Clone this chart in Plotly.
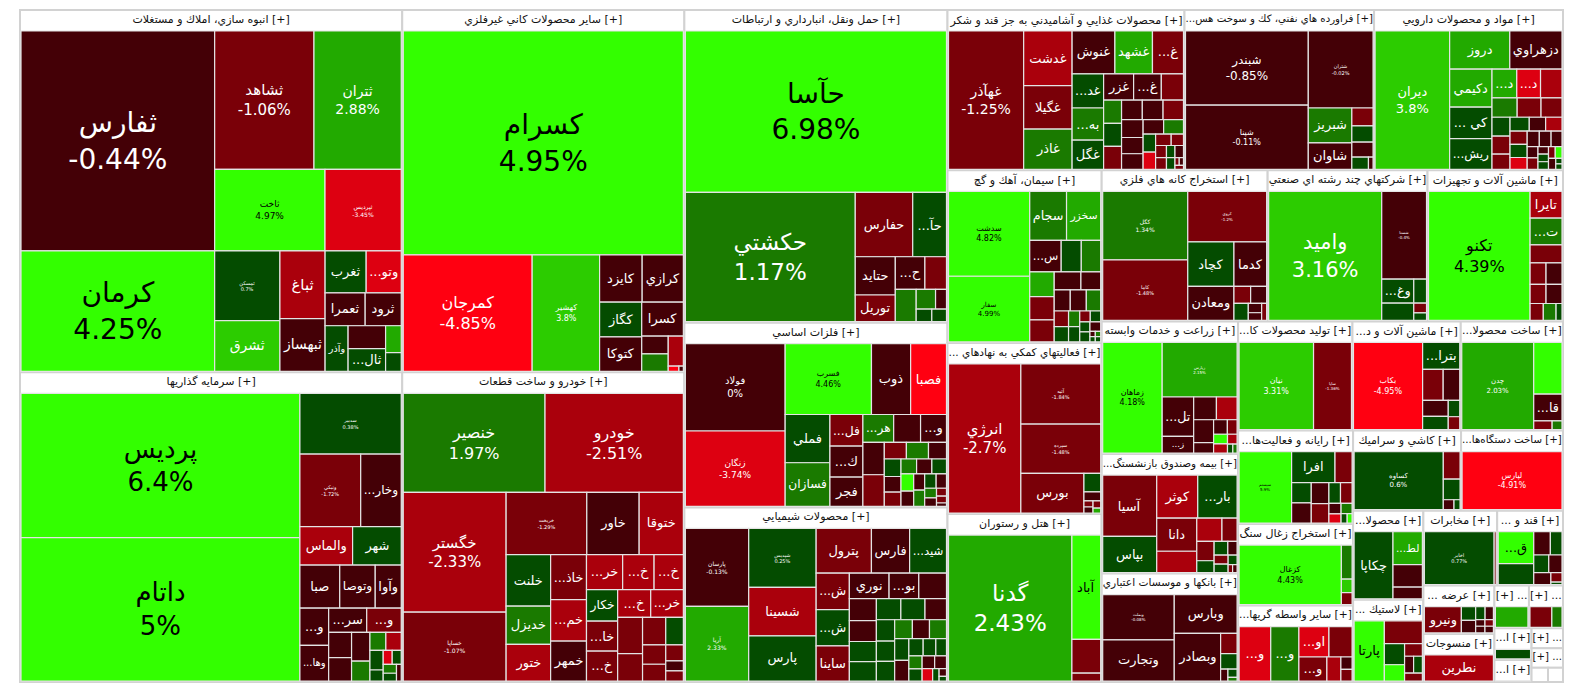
import plotly.graph_objects as go

# ---------------- DATA ----------------
sector_names = [
    "انبوه سازي، املاك و مستغلات", "سرمايه گذاريها", "ساير محصولات كاني غيرفلزي",
    "خودرو و ساخت قطعات", "حمل ونقل، انبارداري و ارتباطات", "فلزات اساسي", "محصولات شيميايي",
    "محصولات غذايي و آشاميدني به جز قند و شكر", "...فراورده هاي نفتي، كك و سوخت هس",
    "مواد و محصولات دارويي", "سيمان، آهك و گچ", "... فعاليتهاي كمكي به نهادهاي", "هتل و رستوران",
    "استخراج كانه هاي فلزي", "شركتهاي چند رشته اي صنعتي", "ماشين آلات و تجهيزات",
    "زراعت و خدمات وابسته", "...بيمه وصندوق بازنشستگ", "بانكها و موسسات اعتباري",
    "...توليد محصولات كا", "...ماشين آلات و د", "...ساخت محصولا", "...رايانه و فعاليت‌ها",
    "استخراج زغال سنگ", "...ساير واسطه گريها", "كاشي و سراميك", "...ساخت دستگاه‌ها",
    "...محصولا", "... لاستيك", "مخابرات", "... قند و", "... عرضه", "منسوجات",
    "...", "...", "...ا", "...ا", "...", "...", "", "",
]
sector_sizes = [
    135324, 115668, 99882, 85374, 80388, 47502, 44892, 37130, 29700, 29600, 26000, 25800, 25300,
    24500, 23600, 20000, 17685, 15930, 14445, 12204, 11556, 10908, 10509, 9153, 8588, 8453, 7979,
    6120, 5644, 5402, 4818, 3350, 3340, 1440, 1420, 1150, 800, 610, 600, 230, 210,
]

# each leaf: (symbol, relative size, % change)
anbooh = [("ثفارس", 42650, -0.44), ("كرمان", 23350, 4.25), ("ثشاهد", 13760, -1.06), ("ثتران", 12090, 2.88),
          ("ثاخت", 9020, 4.97), ("ثپرديس", 6230, -3.45), ("ثمسكن", 4550, 0.7), ("ثشرق", 3315, 3.2),
          ("ثباغ", 3060, -2.4), ("ثبهساز", 2385, -0.6), ("ثغرب", 1722, 0.5), ("...وتو", 1470, -3.5),
          ("ثعمرا", 1320, -0.5), ("ثرود", 1188, -0.5), ("وآذر", 1050, 0.5), ("", 861, -0.5),
          ("...ثال", 850, 0.6), ("", 420, 2.5), ("", 294, 0.5)]
sarmaye = [("پرديس", 265000, 6.4), ("داتام", 263000, 5.0), ("سدبير", 40500, 0.38), ("ونيكي", 29025, -1.72),
           ("...وخار", 19350, -0.6), ("والماس", 13338, -2.4), ("شهر", 12312, 0.5), ("صبا", 11305, -0.3),
           ("وتوصا", 10070, -0.4), ("وآوا", 7380, -0.5), ("...و", 7052, -0.5), ("...وها", 6724, -0.4),
           ("...سر", 6075, -0.3), ("...و", 5508, -1.3), ("", 3782, -0.3), ("", 3538, -0.4), ("", 3477, -0.5),
           ("", 2392, 1.5), ("", 1872, 1.3), ("", 1806, -2.5), ("", 1720, 0.4), ("", 960, 0.5),
           ("", 832, -3.5), ("", 832, 0.6), ("", 780, 1.2), ("", 676, 0.3), ("", 520, -0.5)]
kani = [("كسرام", 539076, 4.95), ("كمرجان", 129150, -4.85), ("كهشير", 67550, 3.8), ("كايزد", 17343, -0.5),
        ("كرازي", 16779, -0.5), ("كگاز", 12546, 0.4), ("كتوكا", 12495, -0.4), ("كسرا", 12138, -0.4),
        ("", 4050, -0.5), ("", 3975, 1.3), ("", 3900, -2.3), ("", 480, -4.2), ("", 200, -0.5)]
khodro = [("خنصير", 97744, 1.97), ("خودرو", 95360, -2.51), ("خگستر", 85794, -2.33), ("خساپا", 49296, -1.07),
          ("خريخت", 34968, -1.29), ("خاور", 22692, -0.5), ("ختوقا", 19158, -2.3), ("خلنت", 15965, 0.5),
          ("خديزل", 11845, 1.5), ("ختور", 11330, -2.5), ("...خاذ", 11205, -1.3), ("...خم", 10375, -2.5),
          ("خمهر", 9960, -0.5), ("...خر", 8820, -2.5), ("...خ", 7665, -2.5), ("...خ", 7140, -2.5),
          ("خكار", 6840, 0.5), ("...خا", 6480, -1.3), ("...خ", 6480, -1.3), ("...خ", 6391, -2.5),
          ("...خر", 6308, -2.5), ("", 6264, -1.3), ("", 4756, -1.3), ("", 4428, -1.3), ("", 3362, 0.5),
          ("", 3132, -1.3), ("", 2700, -1.3), ("", 1968, -1.3), ("", 1230, -0.5), ("", 1230, -1.3)]
haml = [("حآسا", 363750, 6.98), ("حكشتي", 189344, 1.17), ("حفارس", 31845, -1.3), ("...حآ", 18721, 0.5),
        ("حتايد", 13225, -0.5), ("توريل", 9200, -1.3), ("...ح", 8330, -0.5), ("", 6076, -1.3),
        ("", 5820, 1.5), ("", 3286, 1.5), ("", 1855, -0.5), ("", 1700, 0.5), ("", 1598, 0.5)]
felezat = [("فولاد", 77088, 0), ("زنگان", 66576, -3.74), ("فسرب", 54080, 4.46), ("ذوب", 24544, -0.5),
           ("فصبا", 22464, -4.5), ("فملي", 19092, 0.5), ("فسازان", 17286, 1.5), ("...فل", 9215, -1.3),
           ("...ك", 9025, -0.5), ("فجر", 8550, -0.5), ("...هر", 7600, 1.5), ("", 6640, -0.5),
           ("...و", 6400, -0.5), ("", 6120, -0.5), ("", 6000, -1.3), ("", 3240, -1.3), ("", 3240, 1.5),
           ("", 2640, -0.5), ("", 2580, 0.5), ("", 2300, -0.5), ("", 2116, -1.3), ("", 2064, 1.5),
           ("", 2021, -0.5), ("", 1935, 0.5), ("", 1932, 4.2), ("", 1710, -0.5), ("", 1575, -0.5),
           ("", 1575, 1.5), ("", 1450, 0.5), ("", 1305, -0.5), ("", 1000, 1.5), ("", 900, -0.5),
           ("", 700, -1.3), ("", 600, -1.3), ("", 300, -0.5)]
shimi = [("پارسان", 43105, -0.13), ("آريا", 41255, 2.33), ("شپديس", 34672, 0.25), ("شسينا", 28565, -2.3),
         ("پارس", 26595, 0.5), ("پترول", 21615, -1.3), ("فارس", 14934, -0.5), ("...شيد", 14410, 0.5),
         ("...ش", 10573, -1.3), ("...ش", 10476, 0.5), ("ساينا", 10185, -1.3), ("نوري", 8806, -0.5),
         ("...بو", 6586, -0.5), ("", 6142, -0.5), ("", 5214, -0.5), ("", 4898, -0.5), ("", 4740, 0.5),
         ("", 4582, 0.5), ("", 4514, 0.5), ("", 4453, 0.5), ("", 3965, -0.5), ("", 3402, 0.5),
         ("", 3240, 0.5), ("", 3132, 0.5), ("", 2915, 1.5), ("", 2809, -0.5), ("", 2795, 1.5),
         ("", 2709, 0.5), ("", 2544, -0.5), ("", 2150, 0.5), ("", 1900, 0.5), ("", 1600, 0.5),
         ("", 1520, 1.5), ("", 1400, 0.5), ("", 1400, -0.5), ("", 1320, -0.5), ("", 1140, -3.2),
         ("", 700, 0.5), ("", 500, -0.5), ("", 300, 0.5)]
ghaza = [("غهآذر", 93600, -1.25), ("غدشت", 23780, -2.5), ("غگيلا", 18995, -1.3), ("غاذر", 17545, 1.5),
         ("غنوش", 16506, -0.5), ("غشهد", 14490, 2.5), ("...غ", 11970, -1.3), ("...غد", 9682, 0.5),
         ("...به", 9118, 1.5), ("غگل", 8272, 0.5), ("غزر", 7084, -0.5), ("...غ", 6545, -0.5),
         ("", 5236, -1.3), ("", 3763, 1.5), ("", 3710, 0.5), ("", 3710, -1.3), ("", 3654, -0.5),
         ("", 3654, -0.5), ("", 3596, -1.3), ("", 3465, -0.5), ("", 3150, -0.5), ("", 3024, -0.5),
         ("", 2666, -0.5), ("", 2580, 1.5), ("", 2016, 0.5), ("", 1944, -3.5), ("", 1600, -1.3),
         ("", 1260, -1.3), ("", 1180, -1.3), ("", 1150, -1.3), ("", 925, 0.5), ("", 925, -0.5),
         ("", 900, 0.5), ("", 300, -1.3), ("", 300, -0.5), ("", 300, -1.3)]
naft = [("شبندر", 64670, -0.85), ("شپنا", 55970, -0.11), ("شتران", 35420, -0.02), ("شبريز", 10812, 1.5),
        ("شاوان", 8160, -0.5), ("", 2700, -1.3), ("", 2450, 0.5), ("", 2250, -0.5), ("", 1444, 0.5),
        ("", 400, -0.5)]
darou = [("ديران", 90688, 3.8), ("دروز", 20202, 2.5), ("دزهراوي", 17538, -0.5), ("دكيمي", 14145, 2.5),
         ("... كي", 11685, 0.5), ("...ريش", 11439, 0.5), ("...د", 6225, 2.5), ("...د", 5976, -3.5),
         ("", 5395, -2.5), ("", 4290, 1.5), ("", 4070, -1.3), ("", 3575, -1.3), ("", 3000, 0.5),
         ("", 2850, -1.3), ("", 2400, -1.3), ("", 2350, 0.5), ("", 2000, -0.5), ("", 2000, -2.5),
         ("", 2000, -1.3), ("", 1974, 0.5), ("", 1786, -3.5), ("", 1645, -0.5), ("", 1600, -0.5),
         ("", 1480, -0.5), ("", 1080, -0.5), ("", 1080, -1.3), ("", 700, -0.5), ("", 700, 0.5),
         ("", 700, 0.5), ("", 700, -1.3), ("", 700, 4.2), ("", 700, -0.5), ("", 300, 0.5), ("", 300, 0.5)]
siman = [("سدشت", 60690, 4.82), ("سفار", 46886, 4.99), ("سجام", 15873, 1.5), ("سخزر", 14729, 2.5),
         ("...س", 8742, -0.5), ("", 5580, 0.5), ("", 5394, 1.5), ("", 5325, 2.5), ("", 4970, -1.3),
         ("", 4757, -1.3), ("", 4212, -0.5), ("", 3120, -0.5), ("", 2976, -0.5), ("", 2976, -0.5),
         ("", 2666, 1.5), ("", 1968, -1.3), ("", 1927, 0.5), ("", 1536, 1.5), ("", 1504, 0.5),
         ("", 1000, -1.3), ("", 990, 0.5), ("", 900, 0.5), ("", 900, 0.5), ("", 900, -0.5),
         ("", 250, -0.5), ("", 250, 0.5), ("", 250, 1.5), ("", 250, 0.5)]
komaki = [("انرژي", 96984, -2.7), ("آتيه", 43200, -1.84), ("سپرده", 35280, -1.48), ("بورس", 22560, -1.3),
          ("", 2800, 0.5), ("", 1350, -0.5), ("", 500, -1.3), ("", 500, -0.5), ("", 500, -1.3), ("", 340, 2.5)]
hotel = [("گدنا", 160763, 2.43), ("آباد", 26796, 4.5), ("", 8700, -1.3), ("", 2000, -1.3)]
kane = [("كگل", 40986, 1.34), ("كاما", 36225, -1.48), ("كروي", 27985, -1.2), ("كچاد", 14464, 0.5),
        ("ومعادن", 11074, -0.5), ("كدما", 10240, -0.5), ("", 2000, -1.3), ("", 1920, -0.5),
        ("", 1720, 0.5), ("", 880, -0.5), ("", 720, -0.5), ("", 600, -1.3)]
chand = [("واميد", 103321, 3.16), ("شستا", 27861, -0.4), ("...وغ", 5460, 0.5), ("", 3900, 0.5),
         ("", 2170, 0.5), ("", 870, -1.3), ("", 680, 0.5)]
mashin = [("تكنو", 85044, 4.39), ("تايرا", 5550, -2.5), ("...ت", 5550, 1.5), ("", 3700, -1.3),
          ("", 2232, -1.3), ("", 2232, -0.5), ("", 1980, -1.3), ("", 1980, -0.5), ("", 1450, -1.3),
          ("", 1400, 1.5), ("", 650, 0.5)]
zeraat = [("زماهان", 57955, 4.18), ("زپارس", 36000, 2.15), ("...تل", 10920, -0.5), ("...ز", 4623, -0.5),
          ("", 4550, -0.5), ("", 4130, -2.5), ("", 4020, -0.5), ("", 1830, -0.5), ("", 1760, -0.5),
          ("", 1240, -1.3), ("", 1188, 4.2), ("", 1120, -2.5), ("", 837, -2.5), ("", 420, 0.5), ("", 336, 1.5)]
bime = [("آسيا", 28124, -1.3), ("بپاس", 16590, 0.5), ("كوثر", 15006, -2.5), ("...بار", 14391, 0.5),
        ("دانا", 11232, -1.3), ("", 7254, -2.5), ("", 4950, -2.5), ("", 2970, -1.3), ("", 2850, -1.3),
        ("", 1750, 0.5), ("", 1600, 0.5), ("", 1080, -0.5), ("", 1080, -1.3), ("", 1000, 0.5),
        ("", 729, 0.5), ("", 300, -1.3), ("", 300, -0.5)]
bank = [("وبملت", 29820, -0.08), ("وتجارت", 27051, -0.5), ("وبارس", 22440, -0.5), ("وبصادر", 20286, -0.5),
        ("", 3055, -1.3), ("", 2350, 0.5), ("", 800, -0.5), ("", 700, 0.5), ("", 300, 1.5)]
comp = [("نيان", 57116, 3.31), ("ساپا", 29082, -1.36)]
barghi = [("بكاب", 53710, -4.95), ("...بترا", 8892, 0.5), ("", 5704, -1.3), ("", 4600, -0.5),
          ("", 3654, -0.5), ("", 3010, 0.5), ("", 1672, 0.5), ("", 1320, -1.3)]
felezi = [("چدن", 54496, 2.03), ("", 12710, 4.5), ("...قا", 6560, -0.5), ("", 1400, -1.3), ("", 750, 1.5)]
rayane = [("سيستم", 32250, 5.9), ("افرا", 11557, 0.5), ("", 4550, -1.3), ("", 3420, 0.5), ("", 3420, -0.5),
          ("", 3172, -0.5), ("", 2964, -1.3), ("", 2074, 0.5), ("", 2074, -1.3), ("", 1080, -0.5),
          ("", 972, -3.5), ("", 960, 1.5), ("", 500, 0.5), ("", 400, 4.2)]
zoghal = [("كزغال", 53460, 4.43), ("", 3200, 1.5), ("", 1280, 3.5), ("", 1120, -1.3)]
vaseteh = [("...و", 14760, -3.5), ("...و", 13120, 1.5), ("...او", 7830, -3.5), ("", 6030, -1.3),
           ("...و", 5760, -1.3), ("", 2880, -2.5), ("", 1184, -0.5), ("", 1120, -1.3)]
kashi = [("كساوه", 43690, 0.6), ("", 3900, -1.3), ("", 2900, 0.5), ("", 900, -0.5), ("", 510, 0.5)]
dastgah = [("لپارس", 52190, -4.91)]
mahsoola = [("چكاپا", 22600, 0.5), ("...لط", 8360, 2.5), ("", 5720, -0.5), ("", 2992, -0.5)]
lastik = [("پارتا", 15494, 4.2), ("", 7366, -1.3), ("", 3640, 0.5), ("", 2800, 4.5), ("", 1920, -1.3),
          ("", 1296, -0.5), ("", 1260, 0.5), ("", 1188, -1.3)]
mokhaberat = [("اخابر", 30636, 0.77), ("", 888, -1.3)]
ghand = [("...ق", 9240, 4.5), ("", 6090, 0.5), ("", 3150, -0.5), ("", 2205, 0.5), ("", 2150, 0.5),
         ("", 1900, -0.5), ("", 1680, -0.5), ("", 860, -1.3), ("", 230, 0.5)]
arze = [("ونيرو", 8700, -1.3), ("", 1760, 0.5), ("", 1600, -0.5), ("", 1100, 0.5), ("", 970, -0.5),
        ("", 550, -0.5), ("", 550, -0.5), ("", 500, -1.3), ("", 500, -0.5)]
nasaji = [("نطرين", 16600, -2.5)]
misc1 = [("", 6200, 2.5)]
misc2 = [("", 4278, -1.3), ("", 1984, 1.5)]
misc3 = [("", 5000, 0.5)]
misc4 = [("", 1000, 0.5)]
misc5 = [("", 600, -1.3), ("", 400, 0.5)]
misc6 = [("", 600, -1.3), ("", 400, 0.5)]
misc7 = [("", 100, 0.5)]
misc8 = [("", 100, 0.5)]

sector_leaves = [anbooh, sarmaye, kani, khodro, haml, felezat, shimi, ghaza, naft, darou, siman, komaki,
                 hotel, kane, chand, mashin, zeraat, bime, bank, comp, barghi, felezi, rayane, zoghal,
                 vaseteh, kashi, dastgah, mahsoola, lastik, mokhaberat, ghand, arze, nasaji,
                 misc1, misc2, misc3, misc4, misc5, misc6, misc7, misc8]

# ---------------- STYLE ----------------
FONT = "DejaVu Sans"
HEADER_H = 21
SHOW_PCT = {"ثفارس", "كرمان", "ثشاهد", "ثتران", "ثاخت", "ثپرديس", "ثمسكن", "پرديس", "داتام", "سدبير",
            "ونيكي", "كسرام", "كمرجان", "كهشير", "خنصير", "خودرو", "خگستر", "خساپا", "خريخت", "حآسا",
            "حكشتي", "فولاد", "زنگان", "فسرب", "پارسان", "آريا", "شپديس", "غهآذر", "شبندر", "شپنا",
            "شتران", "ديران", "سدشت", "سفار", "انرژي", "آتيه", "سپرده", "گدنا", "كگل", "كاما", "كروي",
            "واميد", "شستا", "تكنو", "زماهان", "زپارس", "وبملت", "نيان", "ساپا", "بكاب", "چدن",
            "سيستم", "كزغال", "كساوه", "لپارس", "اخابر"}
TEXT_SIZE = {"ثفارس": 28, "كرمان": 28, "كسرام": 28, "حآسا": 28, "پرديس": 26, "داتام": 26, "حكشتي": 23,
             "گدنا": 23, "واميد": 21, "ثشاهد": 15, "ثتران": 14, "كمرجان": 16, "خنصير": 16, "خودرو": 16,
             "خگستر": 15, "تكنو": 16, "انرژي": 15, "غهآذر": 14, "شبندر": 12, "ديران": 13,
             "ثاخت": 9, "ثپرديس": 6, "ثمسكن": 5, "سدبير": 5, "ونيكي": 5, "كهشير": 8, "خساپا": 6,
             "خريخت": 5, "فولاد": 10, "زنگان": 9, "فسرب": 8, "پارسان": 6, "آريا": 6, "شپديس": 5,
             "شپنا": 8, "شتران": 5, "سدشت": 8, "سفار": 7, "آتيه": 5, "سپرده": 5, "كگل": 6, "كاما": 5,
             "كروي": 4, "شستا": 4, "زماهان": 8, "زپارس": 4, "وبملت": 4, "نيان": 8, "ساپا": 4,
             "بكاب": 8, "چدن": 7, "سيستم": 4, "كزغال": 8, "كساوه": 7, "لپارس": 8, "اخابر": 5,
             "ثباغ": 15, "ثبهساز": 14, "ثشرق": 14}


def tile_color(p):
    if p >= 4:
        return "#33ff00"
    if p >= 3:
        return "#2ccc00"
    if p >= 2:
        return "#22aa00"
    if p >= 1:
        return "#1a7a00"
    if p > 0:
        return "#044c00"
    if p > -1:
        return "#440006"
    if p > -2:
        return "#7a0008"
    if p > -3:
        return "#aa000c"
    if p > -4:
        return "#dd0011"
    return "#ff0011"


def header_text(name):
    if not name:
        return " "
    if any("\u0600" <= ch <= "\u06ff" for ch in name):
        return name + " [+]"      # right-to-left run: the marker ends up on the left
    return "[+] " + name


ids, labels, parents, values = [], [], [], []
colors, texts, tcolors, tsizes, lwidths, lcolors = [], [], [], [], [], []

for si, (sname, ssize, leaves) in enumerate(zip(sector_names, sector_sizes, sector_leaves)):
    sid = f"s{si}"
    head = header_text(sname)
    ids.append(sid)
    labels.append(head)
    parents.append("")
    values.append(0)
    colors.append("#ffffff")
    texts.append(head)
    tcolors.append("#111111")
    tsizes.append(11)
    lwidths.append(2)
    lcolors.append("#d2d2d2")
    tot = sum(v for _, v, _ in leaves)
    for li, (sym, v, p) in enumerate(leaves):
        ids.append(f"{sid}-{li}")
        labels.append(sym if sym else " ")
        parents.append(sid)
        values.append(v * ssize / tot)
        colors.append(tile_color(p))
        if sym and sym in SHOW_PCT:
            texts.append(f"{sym}<br>{p:g}%")
        else:
            texts.append(sym if sym else " ")
        tcolors.append("#000000" if p >= 4 else "#ffffff")
        tsizes.append(TEXT_SIZE.get(sym, 13))
        lwidths.append(1.2)
        lcolors.append("#e4e4e4")

fig = go.Figure(go.Treemap(
    ids=ids, labels=labels, parents=parents, values=values,
    branchvalues="remainder", sort=True,
    text=texts, texttemplate="%{text}", textposition="middle center",
    textfont=dict(family=FONT, size=tsizes, color=tcolors),
    insidetextfont=dict(family=FONT, size=tsizes, color=tcolors),
    marker=dict(colors=colors, line=dict(width=lwidths, color=lcolors),
                pad=dict(t=HEADER_H, l=1, r=1, b=1), depthfade=False),
    tiling=dict(packing="squarify", squarifyratio=1, pad=0),
    pathbar=dict(visible=False),
    root=dict(color="#ffffff"),
    hoverinfo="skip",
))
# the hidden top node also reserves a header strip; the page is shifted up to hide it
SHIFT = HEADER_H - 10
fig.update_layout(width=1584, height=698 + SHIFT, margin=dict(l=19, r=20, t=0, b=15),
                  paper_bgcolor="white", font=dict(family=FONT))
post = ("var gd=document.getElementById('{plot_id}');"
        "gd.style.marginTop='-%dpx';"
        "document.body.style.margin='0';document.body.style.overflow='hidden';" % SHIFT)
fig.write_html("out.html", post_script=post)
